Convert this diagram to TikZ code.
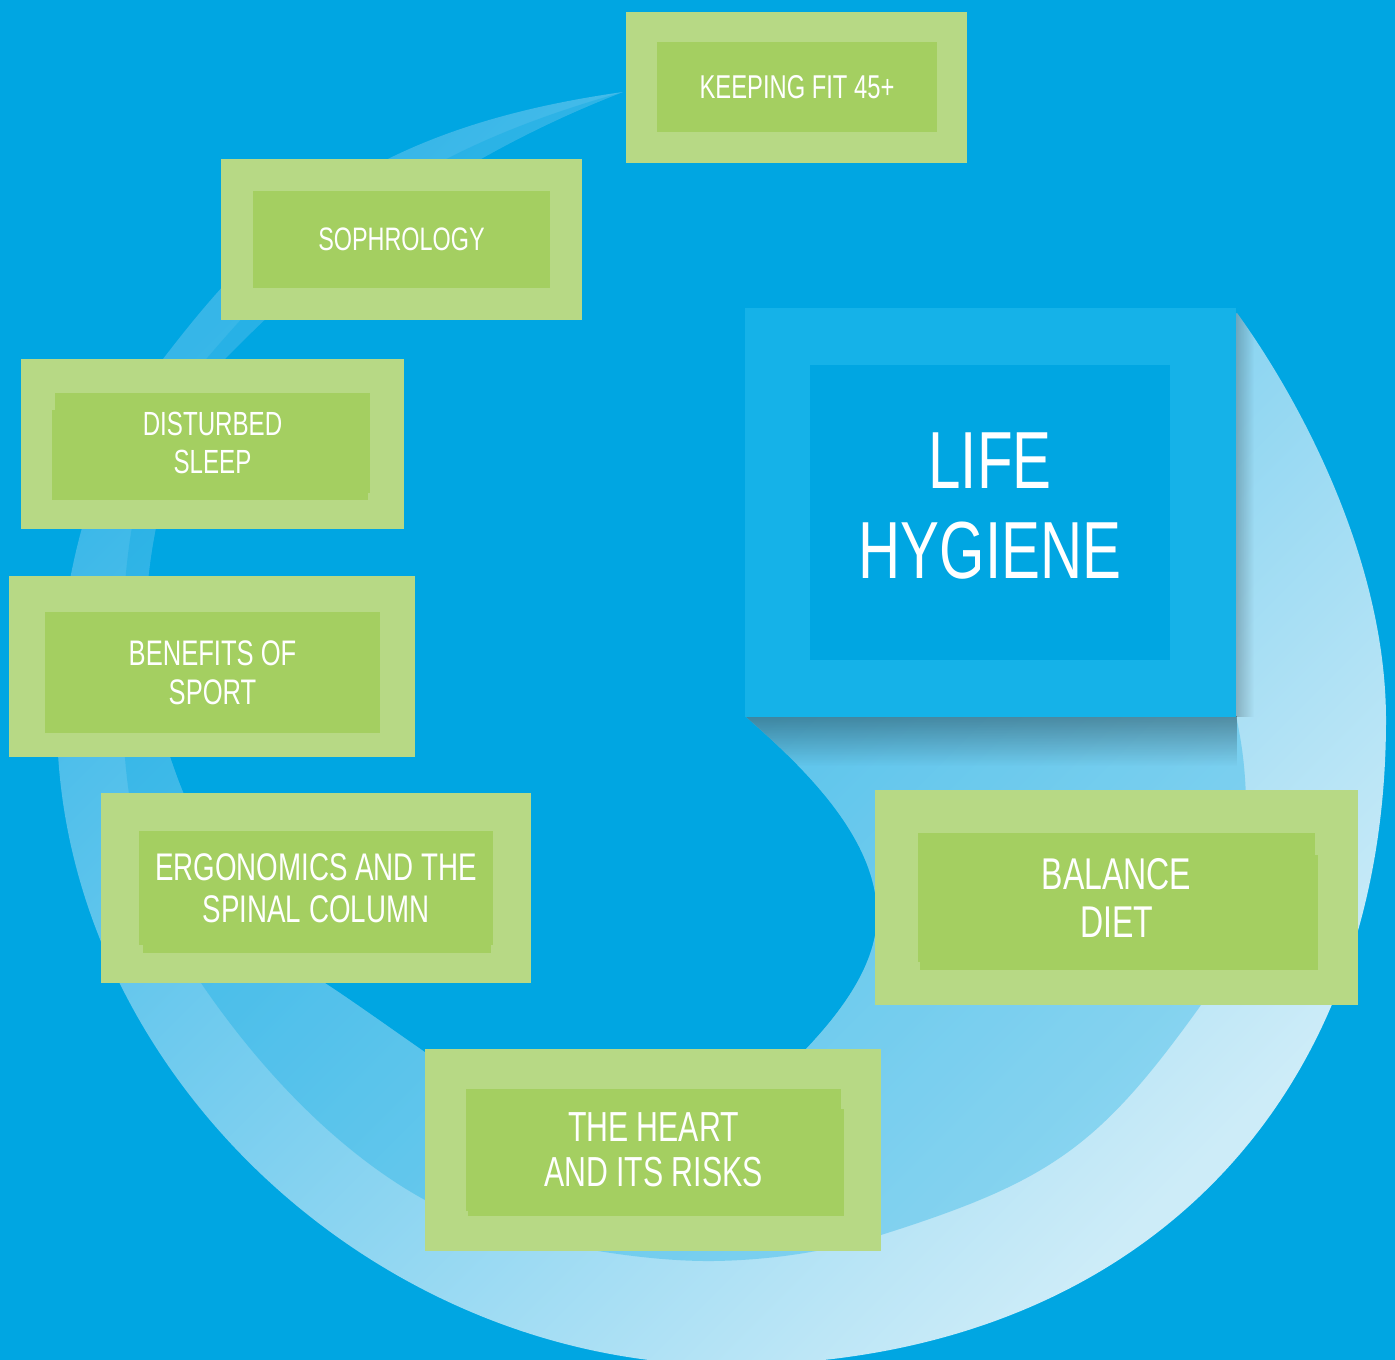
\documentclass[tikz,border=0pt]{standalone}
\usepackage{fontspec}
\setmainfont[FakeStretch=0.72]{Liberation Sans}
\usetikzlibrary{fadings}
\definecolor{bgblue}{RGB}{0,166,226}
\definecolor{lifeout}{RGB}{21,178,232}
\definecolor{gout}{RGB}{183,217,133}
\definecolor{gin}{RGB}{164,207,97}
\definecolor{paleA}{RGB}{54,182,232}
\definecolor{paleB}{RGB}{205,236,248}
\tikzfading[name=fadedown, top color=transparent!0, bottom color=transparent!100]
\tikzfading[name=faderight, left color=transparent!0, right color=transparent!100]
\begin{document}
\begin{tikzpicture}[x=1pt, y=-1pt,
  gouter/.style={fill=gout, draw=none, inner sep=0pt, outer sep=0pt},
  ginner/.style={fill=gin, draw=none, inner sep=0pt, outer sep=0pt, text=white, align=center}]
\useasboundingbox (0,0) rectangle (1395,1360);
\fill[bgblue] (0,0) rectangle (1395,1360);
% crescent (pale): outer edge, then inner edge back to the tip
\shade[top color=paleA, bottom color=paleB, shading angle=45]
  (623,92) .. controls (366,128) and (265,226) .. (163,359)
  .. controls (85,460) and (57,600) .. (57,720)
  .. controls (57,1065) and (371,1365) .. (729,1365)
  .. controls (1124,1365) and (1386,1115) .. (1386,720)
  .. controls (1386,560) and (1300,400) .. (1237,313)
  -- (745,716)
  .. controls (798,762.5) and (877,835) .. (877,915)
  .. controls (877,965) and (840.5,1012.5) .. (806,1049)
  .. controls (758,1100) and (720,1160) .. (650,1160)
  .. controls (560,1160) and (433,1054.5) .. (325,983)
  .. controls (217,911.5) and (146,740) .. (146,620)
  .. controls (146,530) and (183,402) .. (225,359)
  .. controls (330,251) and (455.6,156.8) .. (623,92) -- cycle;
% medium band
\fill[bgblue, fill opacity=0.3]
  (623,92) .. controls (412,151) and (312,235) .. (208,357)
  .. controls (130,448) and (122,560) .. (122,680)
  .. controls (122,800) and (138.9,892) .. (201,983)
  .. controls (285,1106) and (370,1170) .. (425,1200)
  .. controls (480,1232) and (620,1262) .. (713,1261)
  .. controls (790,1260) and (850,1245) .. (881,1235)
  .. controls (1051.5,1181) and (1099.6,1146.6) .. (1201,1005)
  .. controls (1230,965) and (1248,880) .. (1246,800)
  .. controls (1245,760) and (1240,735) .. (1236,716)
  -- (745,716)
  .. controls (798,762.5) and (877,835) .. (877,915)
  .. controls (877,965) and (840.5,1012.5) .. (806,1049)
  .. controls (758,1100) and (720,1160) .. (650,1160)
  .. controls (560,1160) and (433,1054.5) .. (325,983)
  .. controls (217,911.5) and (146,740) .. (146,620)
  .. controls (146,530) and (183,402) .. (225,359)
  .. controls (330,251) and (455.6,156.8) .. (623,92) -- cycle;
% shadow of the central box, only on the crescent
\begin{scope}
\clip
  (623,92) .. controls (366,128) and (265,226) .. (163,359)
  .. controls (85,460) and (57,600) .. (57,720)
  .. controls (57,1065) and (371,1365) .. (729,1365)
  .. controls (1124,1365) and (1386,1115) .. (1386,720)
  .. controls (1386,560) and (1300,400) .. (1237,313)
  -- (745,716)
  .. controls (798,762.5) and (877,835) .. (877,915)
  .. controls (877,965) and (840.5,1012.5) .. (806,1049)
  .. controls (758,1100) and (720,1160) .. (650,1160)
  .. controls (560,1160) and (433,1054.5) .. (325,983)
  .. controls (217,911.5) and (146,740) .. (146,620)
  .. controls (146,530) and (183,402) .. (225,359)
  .. controls (330,251) and (455.6,156.8) .. (623,92) -- cycle;
\fill[black, opacity=0.32, path fading=fadedown] (740,716) rectangle (1238,766);
\fill[black, opacity=0.22, path fading=faderight] (1235,305) rectangle (1254,717);
\end{scope}
% central box
\node[fill=lifeout, inner sep=0pt, outer sep=0pt, minimum width=491pt, minimum height=408.5pt] (lifeO) at (990.5,512.25) {};
\node[fill=bgblue, inner sep=0pt, outer sep=0pt, minimum width=360pt, minimum height=294.5pt] (life) at (990,512.25) {};
\node[text=white, align=center, inner sep=0pt, font=\fontsize{81}{90}\selectfont] (lifetext) at (990,506) {LIFE\\HYGIENE};
% green boxes
\node[gouter, minimum width=341pt, minimum height=151pt] (keepO) at (796.5,87.5) {};
\node[ginner, minimum width=280pt, minimum height=90pt, font=\fontsize{33}{38}\selectfont] (keep) at (797,87) {KEEPING FIT 45+};
\node[gouter, minimum width=361pt, minimum height=161pt] (sophO) at (401.5,239.5) {};
\node[ginner, minimum width=297pt, minimum height=96.5pt, font=\fontsize{32.5}{38}\selectfont] (soph) at (401.5,239.25) {SOPHROLOGY};
\node[gouter, minimum width=383pt, minimum height=169.5pt] (distO) at (212.5,443.75) {};
\fill[gin] (52,410) rectangle (368,499.5);
\node[ginner, minimum width=315pt, minimum height=100pt, font=\fontsize{33.5}{37.5}\selectfont] (dist) at (212.5,443) {DISTURBED\\SLEEP};
\node[gouter, minimum width=406pt, minimum height=181pt] (benO) at (212,666.5) {};
\node[ginner, minimum width=335pt, minimum height=121pt, font=\fontsize{35.5}{39}\selectfont] (ben) at (212.5,672.5) {BENEFITS OF\\SPORT};
\node[gouter, minimum width=430pt, minimum height=190pt] (ergO) at (316,888) {};
\fill[gin] (143,840) rectangle (491,953);
\node[ginner, minimum width=354pt, minimum height=114pt, font=\fontsize{38.5}{42}\selectfont] (erg) at (316,888) {ERGONOMICS AND THE\\SPINAL COLUMN};
\node[gouter, minimum width=456pt, minimum height=202pt] (heartO) at (653,1150) {};
\fill[gin] (468,1109) rectangle (844,1216);
\node[ginner, minimum width=375pt, minimum height=122pt, font=\fontsize{42}{45}\selectfont] (heart) at (653.5,1150) {THE HEART\\AND ITS RISKS};
\node[gouter, minimum width=483pt, minimum height=215pt] (balO) at (1116.5,897.5) {};
\fill[gin] (920,855) rectangle (1318,970);
\node[ginner, minimum width=397pt, minimum height=129pt, font=\fontsize{44.5}{48}\selectfont] (bal) at (1116.5,897.5) {BALANCE\\DIET};
\end{tikzpicture}
\end{document}
